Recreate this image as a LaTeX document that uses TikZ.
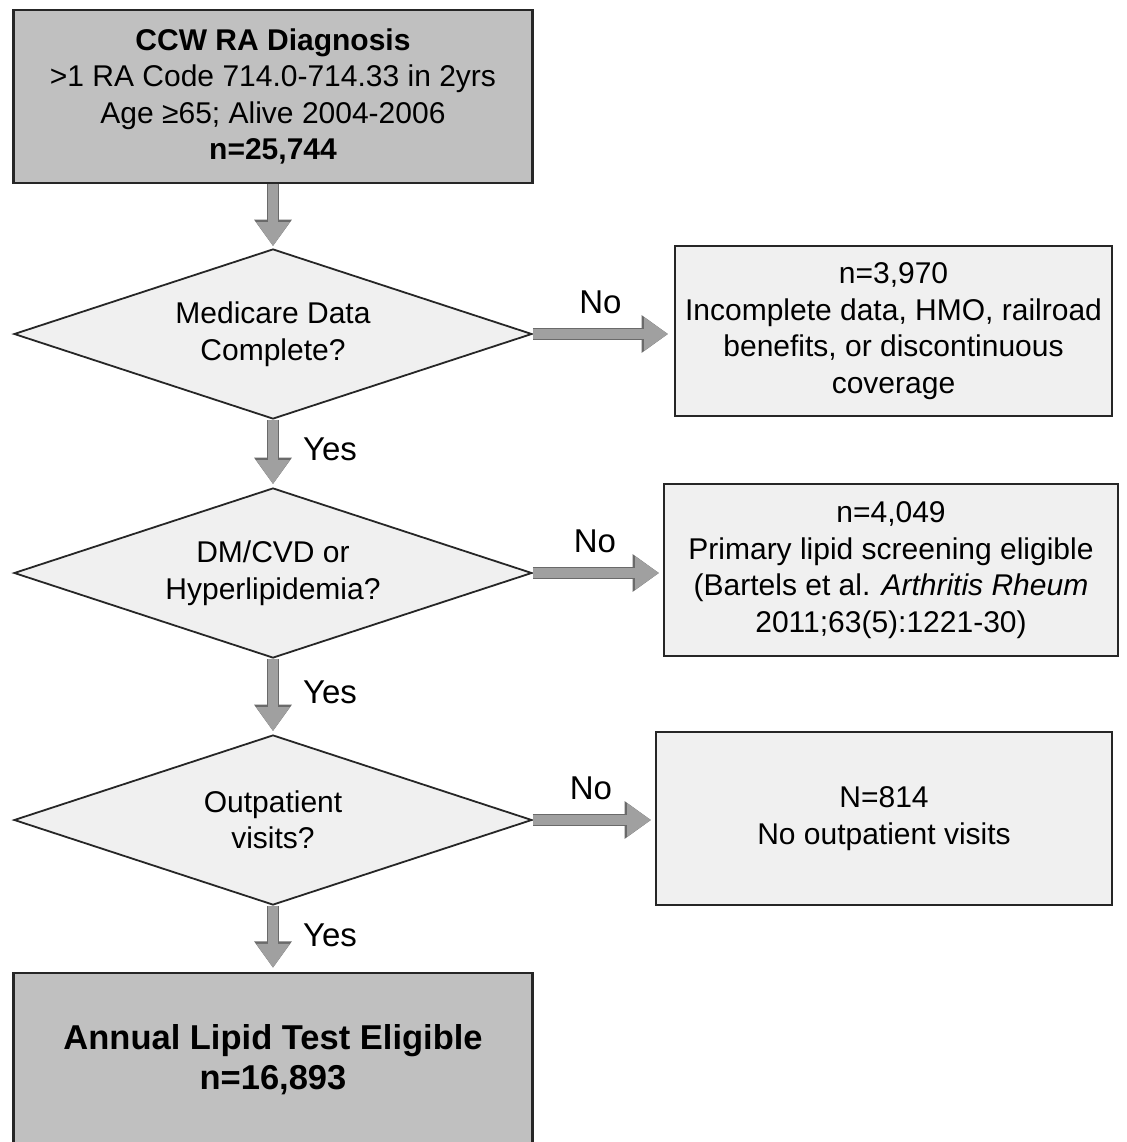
\documentclass[tikz,border=0pt]{standalone}
\usepackage{fontspec}
\setmainfont{Liberation Sans}
\usetikzlibrary{shapes.geometric,arrows.meta}
\definecolor{darkfill}{HTML}{C0C0C0}
\definecolor{lightfill}{HTML}{F0F0F0}
\definecolor{edgecol}{HTML}{262626}
\definecolor{arrowfill}{HTML}{A0A0A0}
\definecolor{arrowedge}{HTML}{6A6A6A}
\begin{document}
\begin{tikzpicture}[x=1pt,y=-1pt,
  txt/.style={font=\fontsize{30}{36.5}\selectfont, align=center, inner sep=0pt},
  mainbox/.style={txt, draw=edgecol, line width=2.5pt, fill=darkfill, minimum width=519pt, minimum height=173pt},
  sidebox/.style={txt, draw=edgecol, line width=2pt, fill=lightfill},
  decision/.style={txt, diamond, aspect=3.05, draw=edgecol, line width=1.8pt, fill=lightfill, minimum width=518pt, minimum height=170pt},
  flow/.style={line width=10pt, draw=arrowfill, -{Triangle[width=32pt,length=24pt]},
    preaction={draw=arrowedge, line width=12.5pt, -{Triangle[width=36pt,length=26.5pt]}}},
  lab/.style={font=\fontsize{33}{38}\selectfont, inner sep=0pt},
  yeslab/.style={lab, midway, right=25pt, yshift=4pt},
  nolab/.style={lab, midway, above=15pt, xshift=-3pt}]
\clip (0,0) rectangle (1126,1142);
\fill[white] (0,0) rectangle (1126,1142);

\node[mainbox] (ccw) at (273,96.5) {\textbf{CCW RA Diagnosis}\\>1 RA Code 714.0-714.33 in 2yrs\\Age ≥65; Alive 2004-2006\\\textbf{n=25,744}};

\node[decision] (d1) at (273,334) {Medicare Data\\Complete?};
\node[decision] (d2) at (273,573) {DM/CVD or\\Hyperlipidemia?};
\node[decision] (d3) at (273,820) {Outpatient\\visits?};

\node[sidebox, minimum width=437pt, minimum height=170pt] (x1) at (893.5,331) {n=3,970\\Incomplete data, HMO, railroad\\benefits, or discontinuous\\coverage};
\node[sidebox, minimum width=454pt, minimum height=172pt] (x2) at (891,570) {n=4,049\\Primary lipid screening eligible\\(Bartels et al. \textit{Arthritis Rheum}\\2011;63(5):1221-30)};
\node[sidebox, minimum width=456pt, minimum height=173pt] (x3) at (884,818.5) {N=814\\No outpatient visits};

\node[mainbox, font=\fontsize{34.5}{40}\selectfont\bfseries] (fin) at (273,1059.5) {Annual Lipid Test Eligible\\n=16,893};

\draw[flow, shorten >=2pt] (ccw.south) -- (d1.north);
\draw[flow, shorten >=3pt] (d1.south) -- node[yeslab]{Yes} (d2.north);
\draw[flow, shorten >=3pt] (d2.south) -- node[yeslab]{Yes} (d3.north);
\draw[flow, shorten >=4pt] (d3.south) -- node[yeslab]{Yes} (fin.north);

\draw[flow, shorten >=6pt] (d1.east) -- node[nolab]{No} (d1.east -| x1.west);
\draw[flow, shorten >=4pt] (d2.east) -- node[nolab]{No} (d2.east -| x2.west);
\draw[flow, shorten >=4pt] (d3.east) -- node[nolab]{No} (d3.east -| x3.west);
\end{tikzpicture}
\end{document}
